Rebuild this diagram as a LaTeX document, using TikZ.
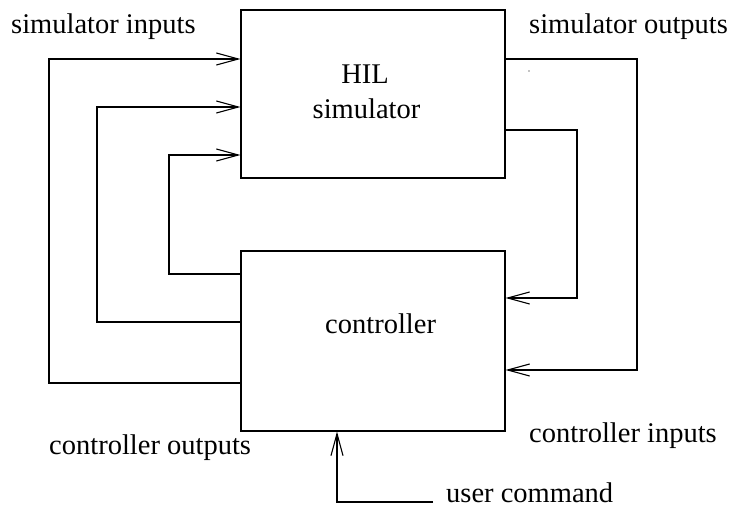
\documentclass[tikz,border=0pt]{standalone}
\usepackage{fontspec}
\setmainfont{Liberation Serif}
\usetikzlibrary{arrows.meta}
\begin{document}
\begin{tikzpicture}[x=1pt,y=-1pt,
  box/.style={draw,line width=1.1pt,inner sep=0pt},
  lbl/.style={inner sep=0pt,anchor=base west,font=\fontsize{28.5}{34}\selectfont},
  wire/.style={line width=1.1pt},
  arr/.style={wire,-{Straight Barb[length=22pt,width=12pt,line width=1.1pt]}}]
\useasboundingbox (0,0) rectangle (731,506);
% boxes
\node[box,minimum width=264pt,minimum height=168pt] (hil) at (373,94) {};
\node[box,minimum width=264pt,minimum height=180pt] (ctrl) at (373,341) {};
% texts
\node[lbl,anchor=base] (thil) at (365,83) {HIL};
\node[lbl,anchor=base] (tsim) at (366.5,118) {simulator};
\node[lbl] (tctrl) at (325,333) {controller};
\node[lbl] (simin) at (11,34) {simulator inputs};
\node[lbl] (simout) at (529,34) {simulator outputs};
\node[lbl] (ctrlout) at (49,454) {controller outputs};
\node[lbl] (ctrlin) at (529,442) {controller inputs};
\node[lbl] (user) at (446,502) {user command};
% corner coordinates
\coordinate (lo1) at (49,383);  \coordinate (lo2) at (49,59);
\coordinate (lm1) at (97,322);  \coordinate (lm2) at (97,107);
\coordinate (li1) at (169,274); \coordinate (li2) at (169,155);
\coordinate (ro1) at (637,59);  \coordinate (ro2) at (637,370);
\coordinate (ri1) at (577,130); \coordinate (ri2) at (577,298);
\coordinate (u1) at (433,502);  \coordinate (u2) at (337,502);
% left loops: controller outputs -> simulator inputs
\draw[arr] (ctrl.west |- lo1) -- (lo1) -- (lo2) -- (hil.west |- lo2);
\draw[arr] (ctrl.west |- lm1) -- (lm1) -- (lm2) -- (hil.west |- lm2);
\draw[arr] (ctrl.west |- li1) -- (li1) -- (li2) -- (hil.west |- li2);
% right loops: simulator outputs -> controller inputs
\draw[arr] (hil.east |- ro1) -- (ro1) -- (ro2) -- (ctrl.east |- ro2);
\draw[arr] (hil.east |- ri1) -- (ri1) -- (ri2) -- (ctrl.east |- ri2);
% user command
\draw[arr] (u1) -- (u2) -- (u2 |- ctrl.south);
% small dot
\fill (529,71) circle (0.6pt);
\end{tikzpicture}
\end{document}
